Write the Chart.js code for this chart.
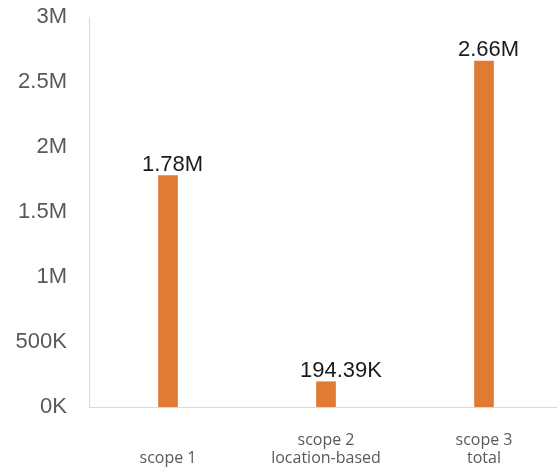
<!DOCTYPE html>
<html>
<head>
<meta charset="utf-8">
<script src="https://cdn.jsdelivr.net/npm/chart.js@4"></script>
<style>
  html, body { margin: 0; padding: 0; background: #fff; overflow: hidden; }
  #wrap { width: 563px; height: 467px; }
</style>
</head>
<body>
<div id="wrap"><canvas id="c"></canvas></div>
<script>
const categories = [["", "scope 1"], ["scope 2", "location-based"], ["scope 3", "total"]];
const values = [1780000, 194390, 2660000];
const valueLabels = ["1.78M", "194.39K", "2.66M"];
const yTickLabels = {0: "0K", 500000: "500K", 1000000: "1M", 1500000: "1.5M", 2000000: "2M", 2500000: "2.5M", 3000000: "3M"};

const barLabelPlugin = {
  id: 'barLabels',
  afterDatasetsDraw(chart) {
    const ctx = chart.ctx;
    const meta = chart.getDatasetMeta(0);
    ctx.save();
    ctx.font = '22px "Liberation Sans", Arial, sans-serif';
    ctx.fillStyle = '#1a1a1a';
    ctx.textAlign = 'left';
    ctx.textBaseline = 'alphabetic';
    meta.data.forEach((bar, i) => {
      ctx.fillText(valueLabels[i], bar.x - 26, bar.y - 5);
    });
    ctx.restore();
  }
};

new Chart(document.getElementById('c'), {
  type: 'bar',
  data: {
    labels: categories,
    datasets: [{
      data: values,
      backgroundColor: '#E17B33',
      barThickness: 19
    }]
  },
  options: {
    responsive: true,
    maintainAspectRatio: false,
    animation: false,
    layout: { padding: { top: 17, left: 0, right: 0, bottom: 0 } },
    plugins: { legend: { display: false }, tooltip: { enabled: false } },
    scales: {
      x: {
        grid: { display: false, drawTicks: false },
        border: { display: true, color: '#d9d9d9', width: 1 },
        ticks: {
          color: '#595959',
          font: { family: '"Open Sans", sans-serif', size: 16, lineHeight: 1.15 },
          padding: 24,
          maxRotation: 0,
          autoSkip: false
        },
        afterFit: (s) => { s.height = 60; }
      },
      y: {
        min: 0,
        max: 3000000,
        grid: { display: false, drawTicks: false },
        border: { display: true, color: '#d9d9d9', width: 1 },
        ticks: {
          stepSize: 500000,
          color: '#595959',
          font: { family: '"Liberation Sans", Arial, sans-serif', size: 22 },
          padding: 22,
          callback: (v) => yTickLabels[v]
        },
        afterFit: (s) => { s.width = 89; s.paddingTop = 0; s.paddingBottom = 0; }
      }
    }
  },
  plugins: [barLabelPlugin]
});
</script>
</body>
</html>
